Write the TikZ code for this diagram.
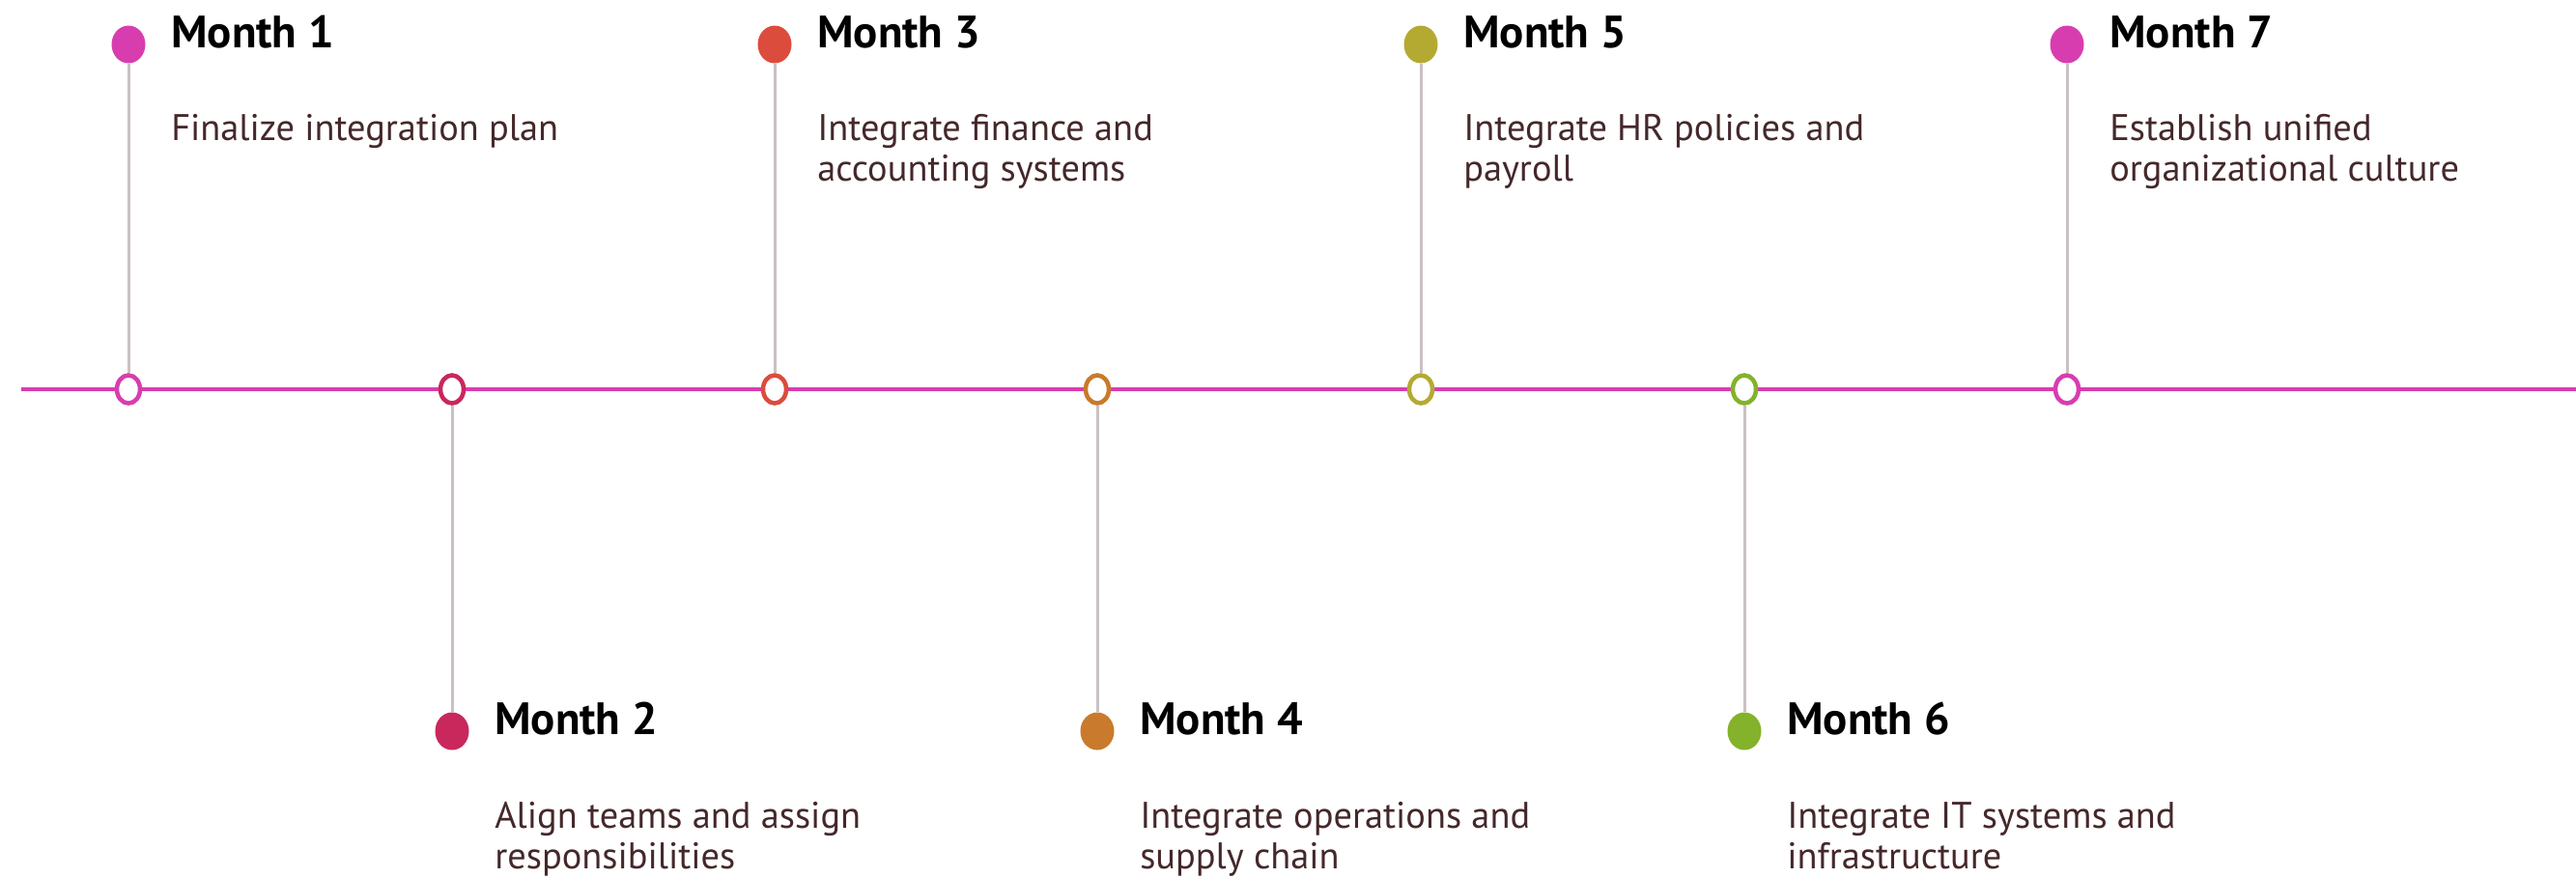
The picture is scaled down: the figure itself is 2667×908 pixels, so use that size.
\documentclass[tikz,border=0pt]{standalone}
\usepackage{fontspec}
\setmainfont{PT Sans}
\usetikzlibrary{shapes.geometric}

\definecolor{tlmagenta}{HTML}{D83DB0}
\definecolor{mcrimson}{HTML}{C8285C}
\definecolor{mred}{HTML}{DC4C3C}
\definecolor{morange}{HTML}{C97A2C}
\definecolor{molive}{HTML}{B4AA32}
\definecolor{mgreen}{HTML}{84B22A}
\definecolor{stemgray}{HTML}{C9C1C1}
\definecolor{textbrown}{HTML}{45282A}

\tikzset{
  monthdot/.style={ellipse, fill=#1, minimum width=26.25pt, minimum height=29.25pt, inner sep=0pt},
  monthring/.style={ellipse, draw=#1, fill=white, line width=3.4pt, minimum width=18pt, minimum height=21.75pt, inner sep=0pt},
  stemline/.style={stemgray, line width=2.25pt},
  timeline/.style={tlmagenta, line width=3pt},
  monthlabel/.style={anchor=base west, inner sep=0pt, font=\fontsize{35.2}{40}\selectfont\bfseries},
  % base of a text of two lines is its last line
  monthtext/.style={anchor=base west, inner sep=0pt, align=left, text=textbrown, font=\fontsize{28.8}{31.5}\selectfont}
}

\begin{document}
\begin{tikzpicture}[x=0.75pt, y=-0.75pt]
  \useasboundingbox (0,0) rectangle (2667,908);

  % the time axis
  \coordinate (tl-start) at (22,403);
  \coordinate (tl-end) at (2667,403);
  \draw[timeline] (tl-start) -- (tl-end);

  % marks on the axis
  \node[monthring=tlmagenta] (r1) at (133,403) {};
  \node[monthring=mcrimson] (r2) at (468,403) {};
  \node[monthring=mred] (r3) at (802,403) {};
  \node[monthring=morange] (r4) at (1136,403) {};
  \node[monthring=molive] (r5) at (1471,403) {};
  \node[monthring=mgreen] (r6) at (1806,403) {};
  \node[monthring=tlmagenta] (r7) at (2140,403) {};

  % heads
  \node[monthdot=tlmagenta] (d1) at (133,46) {};
  \node[monthdot=mcrimson] (d2) at (468,757) {};
  \node[monthdot=mred] (d3) at (802,46) {};
  \node[monthdot=morange] (d4) at (1136,757) {};
  \node[monthdot=molive] (d5) at (1471,46) {};
  \node[monthdot=mgreen] (d6) at (1806,757) {};
  \node[monthdot=tlmagenta] (d7) at (2140,46) {};

  % stems
  \draw[stemline] (d1) -- (r1);
  \draw[stemline] (r2) -- (d2);
  \draw[stemline] (d3) -- (r3);
  \draw[stemline] (r4) -- (d4);
  \draw[stemline] (d5) -- (r5);
  \draw[stemline] (r6) -- (d6);
  \draw[stemline] (d7) -- (r7);

  % labels
  \node[monthlabel] (m1) at (177,49) {Month 1};
  \node[monthtext] (t1) at (177,145) {Finalize integration plan};
  \node[monthlabel] (m2) at (512,760) {Month 2};
  \node[monthtext] (t2) at (512,899) {Align teams and assign\\responsibilities};
  \node[monthlabel] (m3) at (846,49) {Month 3};
  \node[monthtext] (t3) at (846,187) {Integrate finance and\\accounting systems};
  \node[monthlabel] (m4) at (1180,760) {Month 4};
  \node[monthtext] (t4) at (1180,899) {Integrate operations and\\supply chain};
  \node[monthlabel] (m5) at (1515,49) {Month 5};
  \node[monthtext] (t5) at (1515,187) {Integrate HR policies and\\payroll};
  \node[monthlabel] (m6) at (1850,760) {Month 6};
  \node[monthtext] (t6) at (1850,899) {Integrate IT systems and\\infrastructure};
  \node[monthlabel] (m7) at (2184,49) {Month 7};
  \node[monthtext] (t7) at (2184,187) {Establish unified\\organizational culture};
\end{tikzpicture}
\end{document}
